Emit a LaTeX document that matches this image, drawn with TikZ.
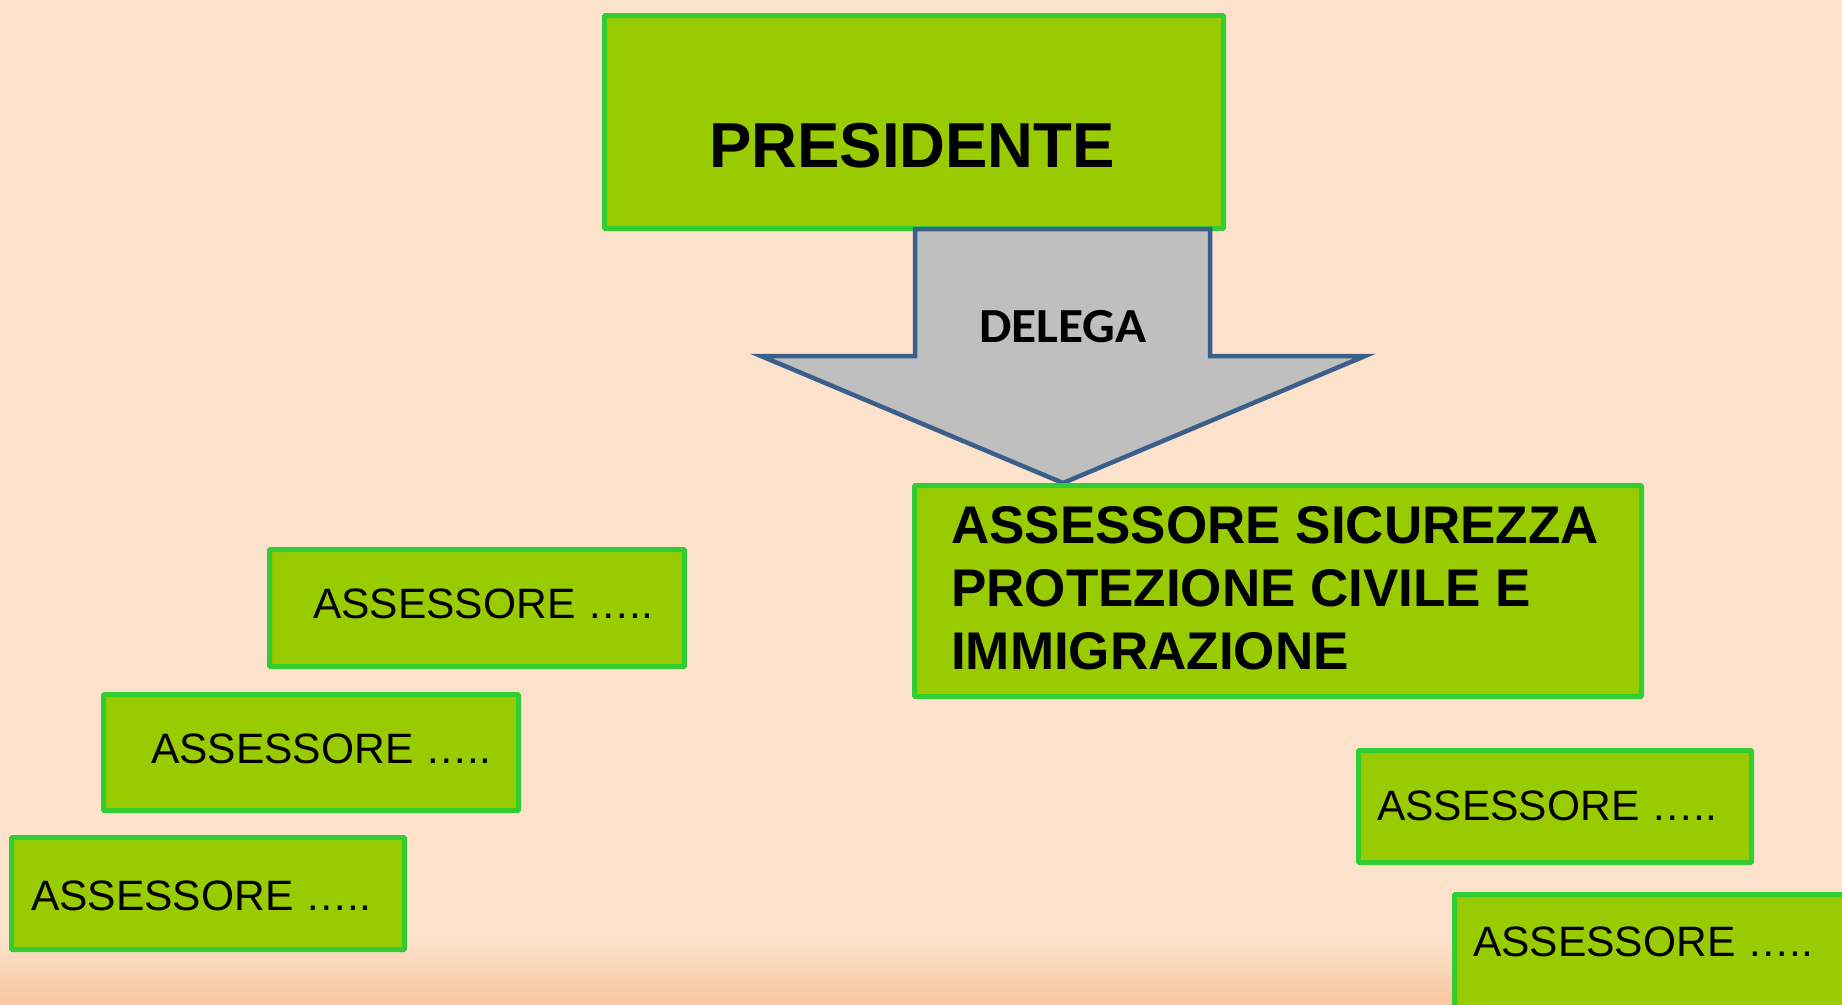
\documentclass[tikz,border=0pt]{standalone}
\usepackage{fontspec}
\setmainfont{Liberation Sans}
\newfontfamily\carlito{Carlito}
\definecolor{bgpeach}{HTML}{FCE2CB}
\definecolor{bgdeep}{HTML}{F7C6A0}
\definecolor{boxfill}{HTML}{99CC00}
\definecolor{boxline}{HTML}{33CC33}
\definecolor{arrowfill}{HTML}{BFBFBF}
\definecolor{arrowline}{HTML}{3A5F8B}
\tikzset{
  gbox/.style={draw=boxline, fill=boxfill, line width=5pt, rounded corners=1pt,
    rectangle, inner sep=0pt, anchor=north west},
  smalltxt/.style={font=\fontsize{42.5}{50}\selectfont, inner sep=0pt, anchor=base west},
  bigtxt/.style={font=\bfseries\fontsize{53}{63}\selectfont, inner sep=0pt, align=left, anchor=north west},
}
\begin{document}
\begin{tikzpicture}[x=1pt,y=-1pt]
\useasboundingbox (0,0) rectangle (1842,1004);
\fill[bgpeach] (0,0) rectangle (1842,1004);
\shade[top color=bgpeach, bottom color=bgdeep] (0,940) rectangle (1842,1004);

% Presidente
\node[gbox, minimum width=619pt, minimum height=213pt] (pres) at (602,13) {};
\node[font=\bfseries\fontsize{63.5}{76}\selectfont, inner sep=0pt, anchor=base] (prestxt) at (912,167) {PRESIDENTE};

% Arrow
\filldraw[fill=arrowfill, draw=arrowline, line width=4.5pt, line join=miter]
  (915,229) -- (1210,229) -- (1210,356) -- (1365,356) -- (1063,483) -- (761,356) -- (915,356) -- cycle;
\node[font=\carlito\bfseries\fontsize{49}{58}\selectfont, inner sep=0pt, anchor=base, xscale=1.05] (delega) at (1063,342) {DELEGA};

% Assessore sicurezza
\node[gbox, minimum width=727pt, minimum height=211pt] (sic) at (912,483) {};
\node[bigtxt] (sictxt) at (951,506) {ASSESSORE SICUREZZA\\PROTEZIONE CIVILE E\\IMMIGRAZIONE};

% Small boxes
\node[gbox, minimum width=415pt, minimum height=117pt] (b1) at (267,547) {};
\node[smalltxt] (t1) at (313,618) {ASSESSORE …..};

\node[gbox, minimum width=415pt, minimum height=116pt] (b2) at (101,692) {};
\node[smalltxt] (t2) at (151,763) {ASSESSORE …..};

\node[gbox, minimum width=393pt, minimum height=112pt] (b3) at (9,835) {};
\node[smalltxt] (t3) at (31,910) {ASSESSORE …..};

\node[gbox, minimum width=393pt, minimum height=112pt] (b4) at (1356,748) {};
\node[smalltxt] (t4) at (1377,820) {ASSESSORE …..};

\node[gbox, minimum width=420pt, minimum height=140pt] (b5) at (1452,892) {};
\node[smalltxt] (t5) at (1473,956) {ASSESSORE …..};
\end{tikzpicture}
\end{document}
